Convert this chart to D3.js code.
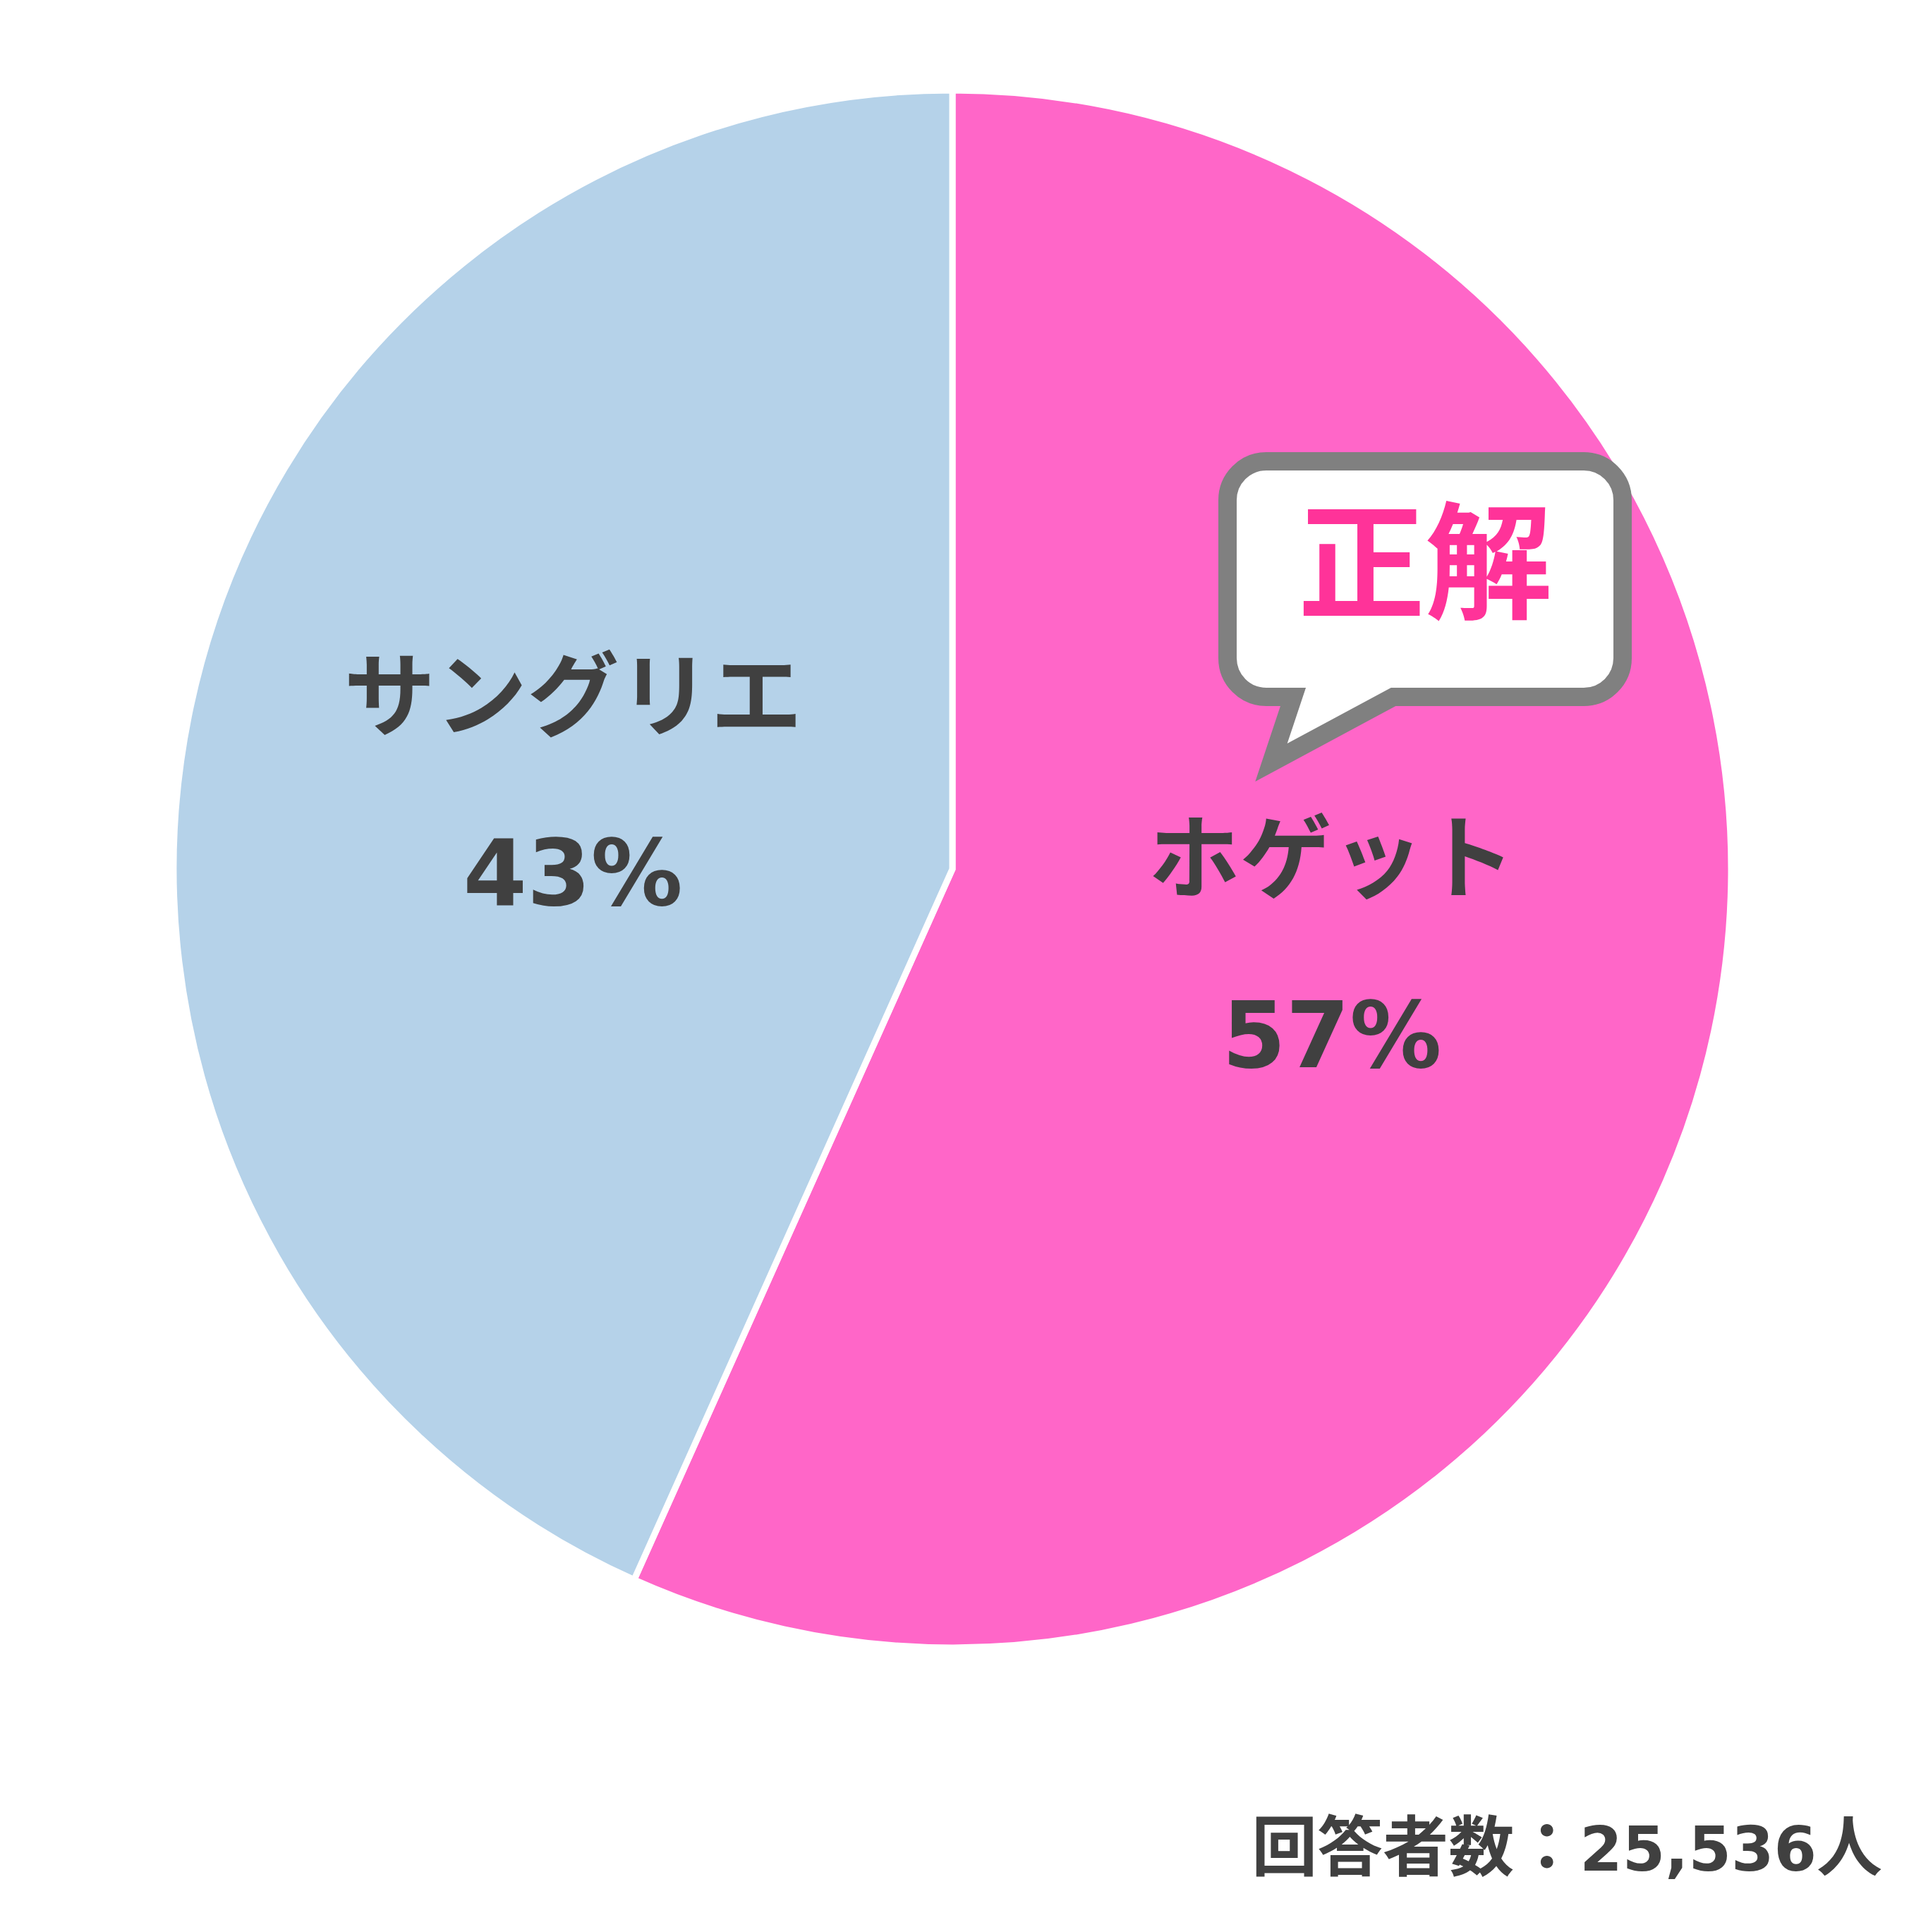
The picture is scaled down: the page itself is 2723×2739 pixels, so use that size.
<!DOCTYPE html>
<html>
<head>
<meta charset="utf-8">
<script src="https://cdn.jsdelivr.net/npm/d3@7"></script>
<style>
  html, body { margin: 0; padding: 0; background: #ffffff; }
  svg { display: block; }
  text { font-family: "Noto Sans CJK JP", "Noto Sans", sans-serif; font-weight: 700; }
  .num { font-family: "DejaVu Sans", "Noto Sans CJK JP", sans-serif; font-weight: 700; }
</style>
</head>
<body>
<svg id="chart" width="2723" height="2739"></svg>
<script>
// ---- data ----
const categories = ["ホゲット", "サングリエ"];
const values = [56.7, 43.3];
const colors = ["#FF66C8", "#B5D2E9"];
const correctIndex = 0;
const correctLabel = "正解";
const respondentsLabel = "回答者数：";
const respondents = 25536;
const respondentsUnit = "人";

// ---- layout ----
const W = 2723, H = 2739;
const cx = 1350, cy = 1232, R = 1104;
const textColor = "#404040";

const svg = d3.select("#chart");
const g = svg.append("g").attr("transform", `translate(${cx},${cy})`);

const pie = d3.pie().sort(null).value(d => d.value);
const data = categories.map((c, i) => ({ name: c, value: values[i], color: colors[i] }));
const arcs = pie(data);
const arc = d3.arc().innerRadius(0).outerRadius(R);

g.selectAll("path.slice")
  .data(arcs)
  .join("path")
  .attr("class", "slice")
  .attr("d", arc)
  .attr("fill", d => d.data.color)
  .attr("stroke", "#ffffff")
  .attr("stroke-width", 9)
  .attr("stroke-linejoin", "miter");

const labelArc = d3.arc().innerRadius(0).outerRadius(1100);
const total = d3.sum(values);
const labelG = g.selectAll("g.label").data(arcs).join("g")
  .attr("class", "label")
  .attr("transform", d => { const c = labelArc.centroid(d); return `translate(${c[0]},${c[1]})`; });

labelG.append("text")
  .attr("text-anchor", "middle")
  .attr("y", -84)
  .attr("font-size", 130)
  .attr("fill", textColor)
  .text(d => d.data.name);

labelG.append("text")
  .attr("class", "num")
  .attr("text-anchor", "middle")
  .attr("y", 166)
  .attr("font-size", 130)
  .attr("fill", textColor)
  .text(d => Math.round(d.data.value / total * 100) + "%");

// ---- speech balloon "正解" ----
const bx0 = 1740, bx1 = 2300, by0 = 654, by1 = 988, br = 55;
const tailL = 1833, tailR = 1975, tipX = 1802, tipY = 1081;
const p = d3.path();
p.moveTo(bx0 + br, by0);
p.lineTo(bx1 - br, by0);
p.arcTo(bx1, by0, bx1, by0 + br, br);
p.lineTo(bx1, by1 - br);
p.arcTo(bx1, by1, bx1 - br, by1, br);
p.lineTo(tailR, by1);
p.lineTo(tipX, tipY);
p.lineTo(tailL, by1);
p.lineTo(bx0 + br, by1);
p.arcTo(bx0, by1, bx0, by1 - br, br);
p.lineTo(bx0, by0 + br);
p.arcTo(bx0, by0, bx0 + br, by0, br);
p.closePath();

svg.append("path")
  .attr("d", p.toString())
  .attr("fill", "#ffffff")
  .attr("stroke", "#808080")
  .attr("stroke-width", 26)
  .attr("stroke-linejoin", "miter")
  .attr("stroke-miterlimit", 6);

svg.append("text")
  .attr("x", (bx0 + bx1) / 2)
  .attr("y", 863)
  .attr("text-anchor", "middle")
  .attr("font-size", 180)
  .attr("fill", "#FF3399")
  .text(correctLabel);

// ---- footer ----
const foot = svg.append("text")
  .attr("x", 2668)
  .attr("y", 2652)
  .attr("text-anchor", "end")
  .attr("font-size", 93)
  .attr("fill", textColor);
foot.append("tspan").text(respondentsLabel);
foot.append("tspan").attr("class", "num").attr("font-size", 87).text(d3.format(",")(respondents));
foot.append("tspan").text(respondentsUnit);
</script>
</body>
</html>
